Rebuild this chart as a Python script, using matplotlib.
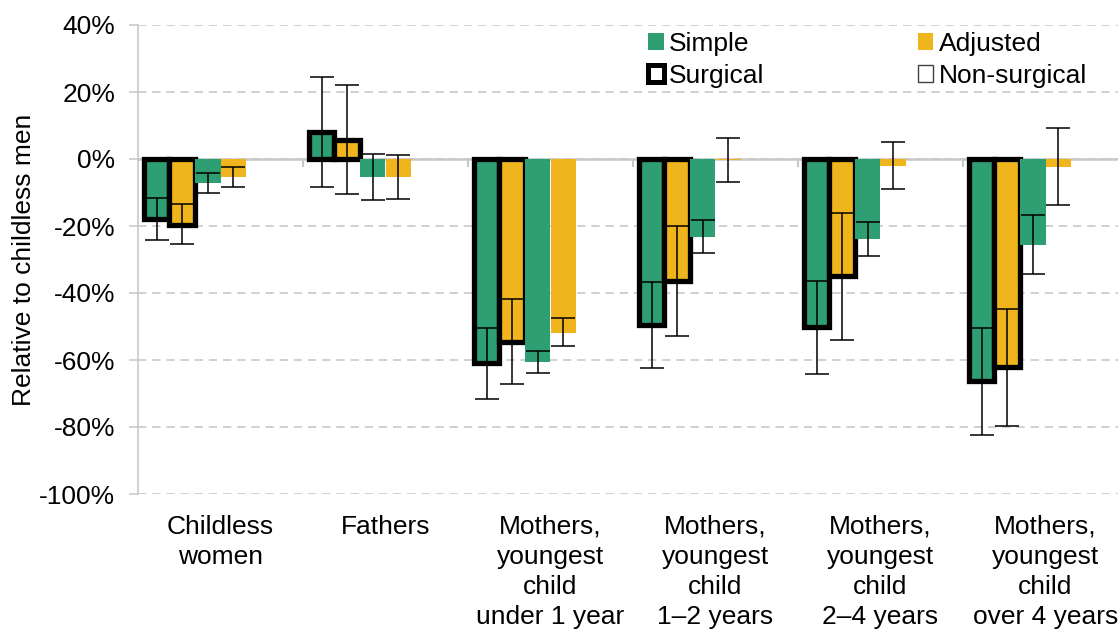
import matplotlib
matplotlib.use("Agg")
import matplotlib.pyplot as plt
import numpy as np
from matplotlib.patches import Patch

plt.rcParams['font.family'] = ['Liberation Sans', 'DejaVu Sans']

categories = ["Childless\nwomen", "Fathers", "Mothers,\nyoungest\nchild\nunder 1 year",
              "Mothers,\nyoungest\nchild\n1\u20132 years", "Mothers,\nyoungest\nchild\n2\u20134 years",
              "Mothers,\nyoungest\nchild\nover 4 years"]

# values in %
simple_surgical = [-17.8, 8.1, -60.9, -49.5, -50.0, -66.3]
simple_surgical_lo = [-24.2, -8.4, -71.7, -62.4, -64.1, -82.3]
simple_surgical_hi = [-11.5, 24.6, -50.5, -36.6, -36.4, -50.5]

adjusted_surgical = [-19.6, 5.8, -54.5, -36.4, -34.9, -62.1]
adjusted_surgical_lo = [-25.5, -10.3, -67.2, -52.9, -53.9, -79.7]
adjusted_surgical_hi = [-13.5, 22.2, -41.7, -19.9, -16.2, -44.9]

simple_nonsurgical = [-7.3, -5.3, -60.5, -23.2, -23.8, -25.6]
simple_nonsurgical_lo = [-10.2, -12.2, -63.9, -28.1, -29.1, -34.2]
simple_nonsurgical_hi = [-4.3, 1.5, -57.2, -18.2, -18.9, -16.6]

adjusted_nonsurgical = [-5.3, -5.3, -51.8, -0.3, -2.0, -2.3]
adjusted_nonsurgical_lo = [-8.4, -12.0, -55.9, -7.0, -9.0, -13.8]
adjusted_nonsurgical_hi = [-2.3, 1.2, -47.5, 6.2, 5.1, 9.2]

yticks = [40, 20, 0, -20, -40, -60, -80, -100]

GREEN = "#2E9E73"
YELLOW = "#F0B41C"
GRID = "#C8C8C8"

W, H = 1118, 632
fig = plt.figure(figsize=(W / 100, H / 100), dpi=100)
ax_l, ax_r, ax_t, ax_b = 138, 1128, 25, 494
ax = fig.add_axes([ax_l / W, 1 - ax_b / H, (ax_r - ax_l) / W, (ax_b - ax_t) / H])

x = np.arange(len(categories))
w = 0.155
FS = 19

series = [
    (simple_surgical, simple_surgical_lo, simple_surgical_hi, GREEN, True, -2.5),
    (adjusted_surgical, adjusted_surgical_lo, adjusted_surgical_hi, YELLOW, True, -1.5),
    (simple_nonsurgical, simple_nonsurgical_lo, simple_nonsurgical_hi, GREEN, False, -0.5),
    (adjusted_nonsurgical, adjusted_nonsurgical_lo, adjusted_nonsurgical_hi, YELLOW, False, 0.5),
]

for vals, lo, hi, col, surg, off in series:
    vals = np.array(vals)
    lo = np.array(lo)
    hi = np.array(hi)
    pos = x + off * w
    if surg:
        ax.bar(pos, vals, width=w, color=col, edgecolor="black", linewidth=3.8, zorder=3)
    else:
        ax.bar(pos, vals, width=w, color=col, edgecolor="none", zorder=4)
    ax.errorbar(pos, vals, yerr=[vals - lo, hi - vals], fmt="none", ecolor="black",
                elinewidth=1.1, capsize=8.5, capthick=1.1, zorder=5)

ax.set_xlim(-0.5, len(categories) - 0.5)
ax.set_ylim(-100, 40)
ax.set_yticks(yticks)
ax.set_yticklabels([f"{t}%" for t in yticks], fontsize=FS)
ax.tick_params(axis='y', length=6.5, width=1.1, color=GRID, pad=10)
ax.yaxis.grid(True, color=GRID, linestyle=(0, (5, 3.5)), linewidth=1.2)
ax.set_axisbelow(True)

for s in ['top', 'right', 'bottom']:
    ax.spines[s].set_visible(False)
ax.spines['left'].set_color(GRID)
ax.spines['left'].set_linewidth(1.2)

ax.set_xticks(x)
ax.set_xticklabels(categories, fontsize=FS, linespacing=1.31)
ax.tick_params(axis='x', length=0, pad=15)

sec = ax.secondary_xaxis(0, transform=ax.transData)
sec.set_xticks(np.arange(len(categories) - 1) + 0.5)
sec.set_xticklabels([])
sec.tick_params(axis='x', length=6, width=1.5, color=GRID)
sec.spines['bottom'].set_color(GRID)
sec.spines['bottom'].set_linewidth(1.8)
sec.set_zorder(2)

ax.set_ylabel("Relative to childless men", fontsize=FS)
ax.yaxis.set_label_coords((36 - ax_l) / (ax_r - ax_l), 0.5)

handles = [
    Patch(facecolor=GREEN, edgecolor="none", label="Simple"),
    Patch(facecolor="white", edgecolor="black", linewidth=3.6, label="Surgical"),
    Patch(facecolor=YELLOW, edgecolor="none", label="Adjusted"),
    Patch(facecolor="white", edgecolor="#404040", linewidth=1.0, label="Non-surgical"),
]
leg = fig.legend(handles=handles, loc="upper left", bbox_to_anchor=(648 / W, 1 - 32 / H),
                 ncol=2, frameon=False, fontsize=FS, handlelength=0.6, handleheight=0.6,
                 handletextpad=0.2, columnspacing=5.8, labelspacing=0.3, borderpad=0,
                 borderaxespad=0)

fig.savefig("out.png", dpi=100)
